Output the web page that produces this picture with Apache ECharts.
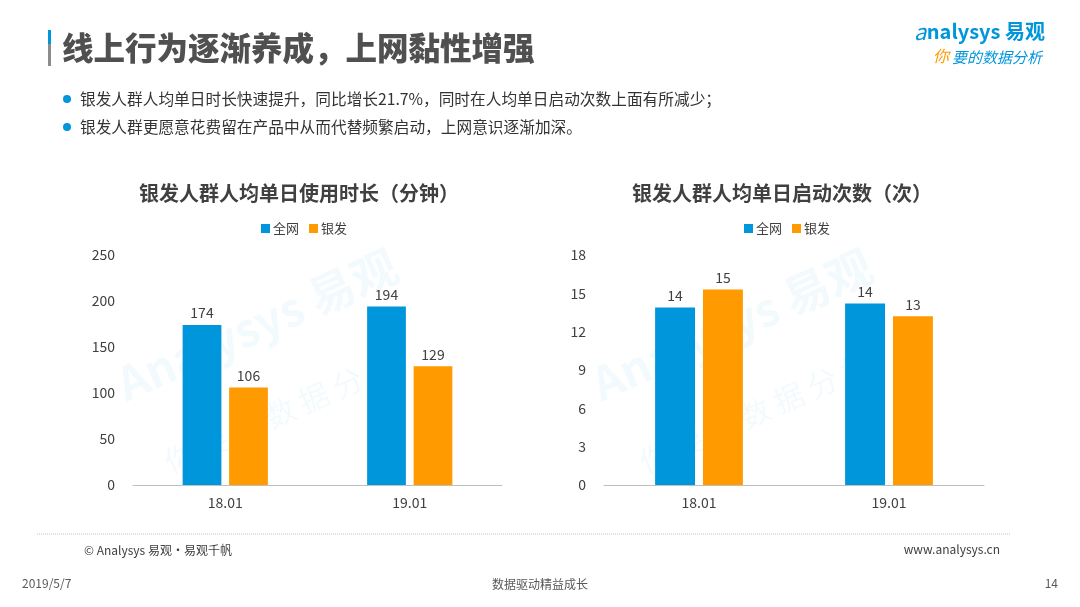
<!DOCTYPE html>
<html><head><meta charset="utf-8">
<script src="https://cdn.jsdelivr.net/npm/echarts@6/dist/echarts.min.js"></script>
<style>html,body{margin:0;padding:0;background:#fff;}#c{width:1080px;height:607px;}</style>
</head><body><div id="c"></div>
<script>
const categories = ['18.01', '19.01'];
const seriesNames = ['全网', '银发'];
const durationAll = [174, 194];
const durationSilver = [106, 129];
const launchAll = [13.9, 14.2];
const launchSilver = [15.3, 13.2];
const durationTicks = { max: 250, interval: 50 };
const launchTicks = { max: 18, interval: 3 };

const BLUE = '#0096DC', ORANGE = '#FF9A00';
const FONT = '"Noto Sans CJK SC", "Noto Sans", sans-serif';
const chart = echarts.init(document.getElementById('c'));

function barSeries(name, data, idx, color, roundLabel) {
  return {
    type: 'bar', name: name, data: data, xAxisIndex: idx, yAxisIndex: idx,
    barWidth: '21%', barGap: '20%',
    itemStyle: { color: color },
    label: { show: true, position: 'top', color: '#404040', fontSize: 14, fontFamily: FONT,
      formatter: p => roundLabel ? Math.round(p.value) : p.value },
    emphasis: { disabled: true }
  };
}
function xAx(idx) {
  return { type: 'category', gridIndex: idx, data: categories,
    axisLine: { lineStyle: { color: '#BFBFBF' } }, axisTick: { show: false },
    axisLabel: { color: '#404040', fontSize: 14, fontFamily: FONT, margin: 11 } };
}
function yAx(idx, t) {
  return { type: 'value', gridIndex: idx, min: 0, max: t.max, interval: t.interval,
    splitLine: { show: false }, axisLine: { show: false }, axisTick: { show: false },
    axisLabel: { color: '#404040', fontSize: 14, fontFamily: FONT, margin: 18 } };
}
const wm = (x, y) => ([
  { type: 'text', x: x, y: y, rotation: 0.42, silent: true, z: 0,
    style: { text: 'Analysys 易观', fill: 'rgba(0,150,220,0.05)', font: 'bold 46px ' + FONT } },
  { type: 'text', x: x + 50, y: y + 85, rotation: 0.42, silent: true, z: 0,
    style: { text: '你 要 的 数 据 分 析', fill: 'rgba(0,150,220,0.05)', font: '30px ' + FONT } }
]);

chart.setOption({
  animation: false,
  title: [
    { text: '银发人群人均单日使用时长（分钟）', left: 294, top: 178, textAlign: 'center',
      textStyle: { fontSize: 20, fontWeight: 'bold', color: '#404040', fontFamily: FONT } },
    { text: '银发人群人均单日启动次数（次）', left: 777, top: 178, textAlign: 'center',
      textStyle: { fontSize: 20, fontWeight: 'bold', color: '#404040', fontFamily: FONT } }
  ],
  legend: [
    { data: seriesNames, left: 256, top: 217, itemWidth: 9, itemHeight: 9, itemGap: 10,
      icon: 'rect', textStyle: { fontSize: 13, color: '#404040', fontFamily: FONT, padding: [0,0,0,-2] } },
    { data: seriesNames, left: 739, top: 217, itemWidth: 9, itemHeight: 9, itemGap: 10,
      icon: 'rect', textStyle: { fontSize: 13, color: '#404040', fontFamily: FONT, padding: [0,0,0,-2] } }
  ],
  grid: [
    { left: 133, width: 369, top: 255, height: 230 },
    { left: 604, width: 380, top: 255, height: 230 }
  ],
  xAxis: [xAx(0), xAx(1)],
  yAxis: [yAx(0, durationTicks), yAx(1, launchTicks)],
  series: [
    barSeries(seriesNames[0], durationAll, 0, BLUE, false),
    barSeries(seriesNames[1], durationSilver, 0, ORANGE, false),
    barSeries(seriesNames[0], launchAll, 1, BLUE, true),
    barSeries(seriesNames[1], launchSilver, 1, ORANGE, true)
  ],
  graphic: [
    ...wm(110, 365), ...wm(585, 365),
    { type: 'rect', shape: { x: 48, y: 30, width: 3, height: 14 }, style: { fill: '#0096DC' } },
    { type: 'rect', shape: { x: 48, y: 44, width: 3, height: 22 }, style: { fill: '#8C8C8C' } },
    { type: 'text', x: 62, y: 48, style: { text: '线上行为逐渐养成，上网黏性增强', fill: '#505050',
      font: '900 31.5px ' + FONT, textVerticalAlign: 'middle' } },
    { type: 'text', x: 1045, y: 31, style: { text: 'nalysys 易观', fill: '#0096DC', align: 'right',
      font: 'bold 20px ' + FONT, textVerticalAlign: 'middle' } },
    { type: 'text', x: 914, y: 32, style: { text: 'a', fill: '#0096DC', font: 'italic 22px ' + FONT, textVerticalAlign: 'middle' } },
    { type: 'text', x: 933, y: 56, style: { text: '你', fill: '#FF9A00', font: 'italic 16px ' + FONT, textVerticalAlign: 'middle' } },
    { type: 'text', x: 952, y: 57, style: { text: '要的数据分析', fill: '#0096DC', font: 'italic 15px ' + FONT, textVerticalAlign: 'middle' } },
    { type: 'circle', shape: { cx: 67, cy: 99, r: 4 }, style: { fill: '#0096DC' } },
    { type: 'circle', shape: { cx: 67, cy: 127, r: 4 }, style: { fill: '#0096DC' } },
    { type: 'text', x: 80, y: 99, style: { text: '银发人群人均单日时长快速提升，同比增长21.7%，同时在人均单日启动次数上面有所减少；',
      fill: '#333333', font: '15.7px ' + FONT, textVerticalAlign: 'middle' } },
    { type: 'text', x: 80, y: 127, style: { text: '银发人群更愿意花费留在产品中从而代替频繁启动，上网意识逐渐加深。',
      fill: '#333333', font: '15.7px ' + FONT, textVerticalAlign: 'middle' } },
    { type: 'line', shape: { x1: 37, y1: 534, x2: 1010, y2: 534 }, style: { stroke: '#BFBFBF', lineWidth: 1, lineDash: [1, 1] } },
    { type: 'text', x: 84, y: 550, style: { text: '© Analysys 易观·易观千帆', fill: '#404040', font: '12px ' + FONT, textVerticalAlign: 'middle' } },
    { type: 'text', x: 1000, y: 549, style: { text: 'www.analysys.cn', fill: '#404040', align: 'right', font: '12px ' + FONT, textVerticalAlign: 'middle' } },
    { type: 'text', x: 22, y: 583, style: { text: '2019/5/7', fill: '#595959', font: '12px ' + FONT, textVerticalAlign: 'middle' } },
    { type: 'text', x: 540, y: 584, style: { text: '数据驱动精益成长', fill: '#595959', align: 'center', font: '12px ' + FONT, textVerticalAlign: 'middle' } },
    { type: 'text', x: 1058, y: 583, style: { text: '14', fill: '#595959', align: 'right', font: '12px ' + FONT, textVerticalAlign: 'middle' } }
  ]
});
</script></body></html>
